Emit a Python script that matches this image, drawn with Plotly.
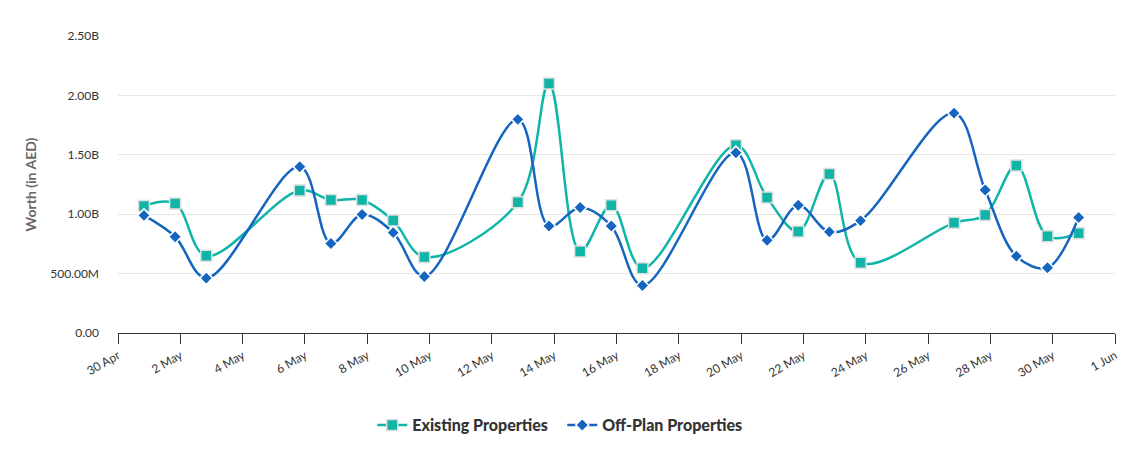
import pandas as pd
import plotly.graph_objects as go

dates = ["2024-05-01", "2024-05-02", "2024-05-03", "2024-05-06", "2024-05-07", "2024-05-08",
         "2024-05-09", "2024-05-10", "2024-05-13", "2024-05-14", "2024-05-15", "2024-05-16",
         "2024-05-17", "2024-05-20", "2024-05-21", "2024-05-22", "2024-05-23", "2024-05-24",
         "2024-05-27", "2024-05-28", "2024-05-29", "2024-05-30", "2024-05-31"]

existing = [1.07e9, 1.09e9, 0.65e9, 1.20e9, 1.12e9, 1.12e9,
            0.946e9, 0.64e9, 1.10e9, 2.10e9, 0.686e9, 1.075e9,
            0.546e9, 1.58e9, 1.14e9, 0.854e9, 1.339e9, 0.591e9,
            0.927e9, 0.994e9, 1.409e9, 0.815e9, 0.84e9]

offplan = [0.99e9, 0.81e9, 0.462e9, 1.40e9, 0.753e9, 0.997e9,
           0.845e9, 0.476e9, 1.798e9, 0.90e9, 1.056e9, 0.90e9,
           0.40e9, 1.518e9, 0.781e9, 1.075e9, 0.851e9, 0.946e9,
           1.851e9, 1.204e9, 0.647e9, 0.549e9, 0.972e9]

y_tickvals = [0, 0.5e9, 1.0e9, 1.5e9, 2.0e9, 2.5e9]
y_ticktext = ["0.00", "500.00M", "1.00B", "1.50B", "2.00B", "2.50B"]

# points are stamped at local (UTC+4) midnight, which shows as 20:00 the previous day
x = pd.to_datetime(dates) - pd.Timedelta(hours=4)

TEAL = "#10b5a8"
BLUE = "#1565c0"

fig = go.Figure()
fig.add_trace(go.Scatter(
    x=x, y=existing, name="Existing Properties", mode="lines+markers",
    line=dict(color=TEAL, width=2.5, shape="spline", smoothing=1.0),
    marker=dict(symbol="square", size=11, color=TEAL, line=dict(color="#e0e0e0", width=1.5)),
))
fig.add_trace(go.Scatter(
    x=x, y=offplan, name="Off-Plan Properties", mode="lines+markers",
    line=dict(color=BLUE, width=2.5, shape="spline", smoothing=1.0),
    marker=dict(symbol="diamond", size=10, color=BLUE, line=dict(color="#ffffff", width=1.5)),
))

fig.update_layout(
    width=1127, height=460,
    margin=dict(l=118, r=12, t=36, b=127, autoexpand=False),
    paper_bgcolor="white", plot_bgcolor="white",
    font=dict(family="Lato, 'Open Sans', sans-serif", color="#333333", size=12),
    showlegend=True,
    legend=dict(orientation="h", x=0.255, xanchor="left", y=-0.31, yanchor="middle",
                font=dict(size=16, color="#333333", family="Lato, sans-serif", weight=900),
                itemwidth=30, entrywidth=145, entrywidthmode="pixels"),
)
fig.update_xaxes(
    type="date", automargin=False,
    range=["2024-04-30", "2024-06-01"],
    tick0="2024-04-30", dtick=2 * 86400000,
    tickformat="%-d %b", tickangle=-30,
    ticks="outside", ticklen=10, tickcolor="#333333", tickwidth=1,
    showline=True, linecolor="#333333", linewidth=1,
    showgrid=False, zeroline=False,
    tickfont=dict(size=12, color="#333333"),
)
fig.update_yaxes(
    range=[0, 2.5e9], automargin=False,
    tickvals=y_tickvals, ticktext=y_ticktext,
    showgrid=True, gridcolor="#e6e6e6", gridwidth=1,
    zeroline=False, showline=False,
    ticks="", ticklabelstandoff=18,
    tickfont=dict(size=12, color="#333333"),
    title=dict(text="<b>Worth (in AED)</b>", font=dict(size=14, color="#666666"), standoff=10),
)

fig.write_html("out.html", config={"displayModeBar": False},
               post_script="document.body.style.margin='0';document.body.style.overflow='hidden';")
